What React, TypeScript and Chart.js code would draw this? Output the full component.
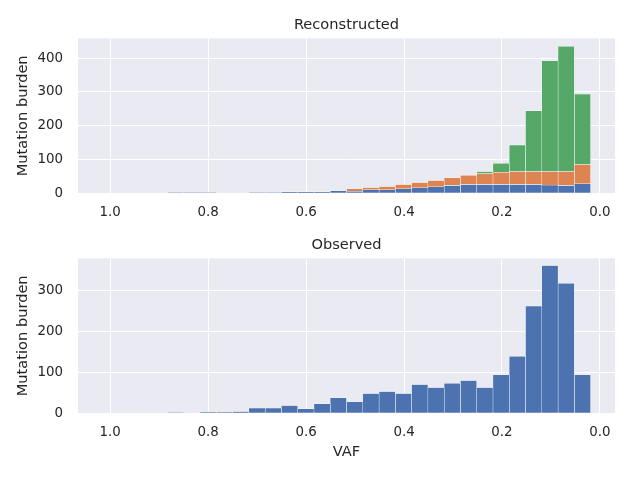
import { useEffect, useRef } from 'react';
import { Chart, registerables } from 'chart.js';

Chart.register(...registerables);

// histogram bins (VAF), 30 bins between these edges
const binStart = 0.019;
const binEnd = 1.016;
const binCount = 30;

// values per bin, lowest VAF first
const reconstructedBlue = [28, 23, 24, 26, 26, 26, 26, 26, 23, 19, 16, 13, 10, 10, 6, 7, 4, 4, 4, 1, 1, 0, 0, 1, 1, 1, 0, 0, 0, 0];
const reconstructedOrange = [57, 41, 40, 38, 38, 36, 32, 27, 23, 19, 16, 13, 10, 7, 7, 0, 0, 0, 0, 0, 0, 0, 0, 0, 0, 0, 0, 0, 0, 0];
const reconstructedGreen = [209, 371, 328, 180, 79, 27, 6, 0, 0, 0, 0, 0, 0, 0, 0, 0, 0, 0, 0, 0, 0, 0, 0, 0, 0, 0, 0, 0, 0, 0];
const observed = [94, 318, 361, 262, 139, 94, 63, 80, 73, 63, 70, 48, 53, 48, 28, 38, 23, 11, 19, 13, 13, 4, 2, 2, 0, 1, 0, 0, 0, 0];

const vafTicks = [0, 0.2, 0.4, 0.6, 0.8, 1.0];
const topTicks = [0, 100, 200, 300, 400];
const bottomTicks = [0, 100, 200, 300];

const binWidth = (binEnd - binStart) / binCount;
const binCenters = observed.map((_, i) => binStart + binWidth * (i + 0.5));

const TEXT = '#262626';
const FONT = 'DejaVu Sans';

const bgPlugin = {
  id: 'axbg',
  beforeDraw(chart: any) {
    const { ctx, chartArea } = chart;
    ctx.save();
    ctx.fillStyle = '#EAEAF2';
    ctx.fillRect(chartArea.left, chartArea.top, chartArea.right - chartArea.left, chartArea.bottom - chartArea.top);
    ctx.restore();
  },
};

// axes title centred over the plot area (matplotlib style)
const panelTitle = {
  id: 'panelTitle',
  afterDraw(chart: any, _args: any, opts: any) {
    const { ctx, chartArea } = chart;
    ctx.save();
    ctx.fillStyle = TEXT;
    ctx.font = `14.6px "${FONT}"`;
    ctx.textAlign = 'center';
    ctx.textBaseline = 'middle';
    ctx.fillText(opts.text, (chartArea.left + chartArea.right) / 2, opts.y);
    ctx.restore();
  },
};

function toPoints(values: number[]) {
  return values.map((y, i) => ({ x: binCenters[i], y }));
}

function barSet(label: string, values: number[], color: string) {
  return {
    label,
    data: toPoints(values),
    backgroundColor: color,
    borderColor: '#ffffff',
    borderWidth: 0.5,
    borderSkipped: false,
    barPercentage: 1,
    categoryPercentage: 1,
  };
}

type PanelProps = {
  title: string;
  titleY: number;
  datasets: any[];
  yMax: number;
  yTicks: number[];
  height: number;
  top: number;
  xHeight: number;
  xTitle?: string;
};

function Panel({ title, titleY, datasets, yMax, yTicks, height, top, xHeight, xTitle }: PanelProps) {
  const canvasRef = useRef<HTMLCanvasElement>(null);
  const chartRef = useRef<Chart | null>(null);

  useEffect(() => {
    const ctx = canvasRef.current?.getContext('2d');
    if (!ctx) return;
    if (chartRef.current) chartRef.current.destroy();

    chartRef.current = new Chart(ctx, {
      type: 'bar',
      data: { datasets },
      plugins: [bgPlugin, panelTitle],
      options: {
        responsive: true,
        maintainAspectRatio: false,
        animation: false,
        layout: { padding: { left: 0, right: 25, top, bottom: 0 } },
        plugins: {
          legend: { display: false },
          tooltip: { enabled: false },
          panelTitle: { text: title, y: titleY },
        },
        scales: {
          x: {
            type: 'linear',
            reverse: true,
            stacked: true,
            offset: false,
            min: binStart - 0.05 * (binEnd - binStart),
            max: binEnd + 0.05 * (binEnd - binStart),
            afterBuildTicks: (axis: any) => {
              axis.ticks = vafTicks.map((value) => ({ value }));
            },
            afterFit: (axis: any) => {
              axis.height = xHeight;
            },
            ticks: {
              autoSkip: false,
              maxRotation: 0,
              padding: 11,
              color: TEXT,
              font: { family: FONT, size: 13.4 },
              callback: (v: any) => Number(v).toFixed(1),
            },
            grid: { color: '#ffffff', lineWidth: 1, drawTicks: false, offset: false },
            border: { display: false },
            title: {
              display: !!xTitle,
              text: xTitle || '',
              color: TEXT,
              font: { family: FONT, size: 14.6 },
              padding: { top: 0, bottom: 18.7 },
            },
          },
          y: {
            stacked: true,
            min: 0,
            max: yMax,
            afterBuildTicks: (axis: any) => {
              axis.ticks = yTicks.map((value) => ({ value }));
            },
            afterFit: (axis: any) => {
              axis.width = 78;
            },
            ticks: {
              padding: 15,
              color: TEXT,
              font: { family: FONT, size: 13.4 },
              callback: (v: any) => String(v),
            },
            grid: { color: '#ffffff', lineWidth: 1, drawTicks: false },
            border: { display: false },
            title: {
              display: true,
              text: 'Mutation burden',
              color: TEXT,
              font: { family: FONT, size: 14.6 },
              padding: { top: 14.7, bottom: 0 },
            },
          },
        },
      } as any,
    });

    return () => {
      if (chartRef.current) {
        chartRef.current.destroy();
        chartRef.current = null;
      }
    };
  }, []);

  return (
    <div style={{ position: 'relative', width: 640, height }}>
      <canvas ref={canvasRef} />
    </div>
  );
}

export default function App() {
  useEffect(() => {
    document.body.style.margin = '0';
  }, []);

  return (
    <div style={{ width: 640, height: 480, background: '#ffffff' }}>
      <Panel
        title="Reconstructed"
        titleY={24.8}
        datasets={[
          barSet('blue', reconstructedBlue, '#4C72B0'),
          barSet('orange', reconstructedOrange, '#DD8452'),
          barSet('green', reconstructedGreen, '#55A868'),
        ]}
        yMax={459}
        yTicks={topTicks}
        height={230}
        top={38.3}
        xHeight={36.7}
      />
      <Panel
        title="Observed"
        titleY={15.5}
        datasets={[barSet('observed', observed, '#4C72B0')]}
        yMax={379}
        yTicks={bottomTicks}
        height={250}
        top={28.3}
        xHeight={66.7}
        xTitle="VAF"
      />
    </div>
  );
}
